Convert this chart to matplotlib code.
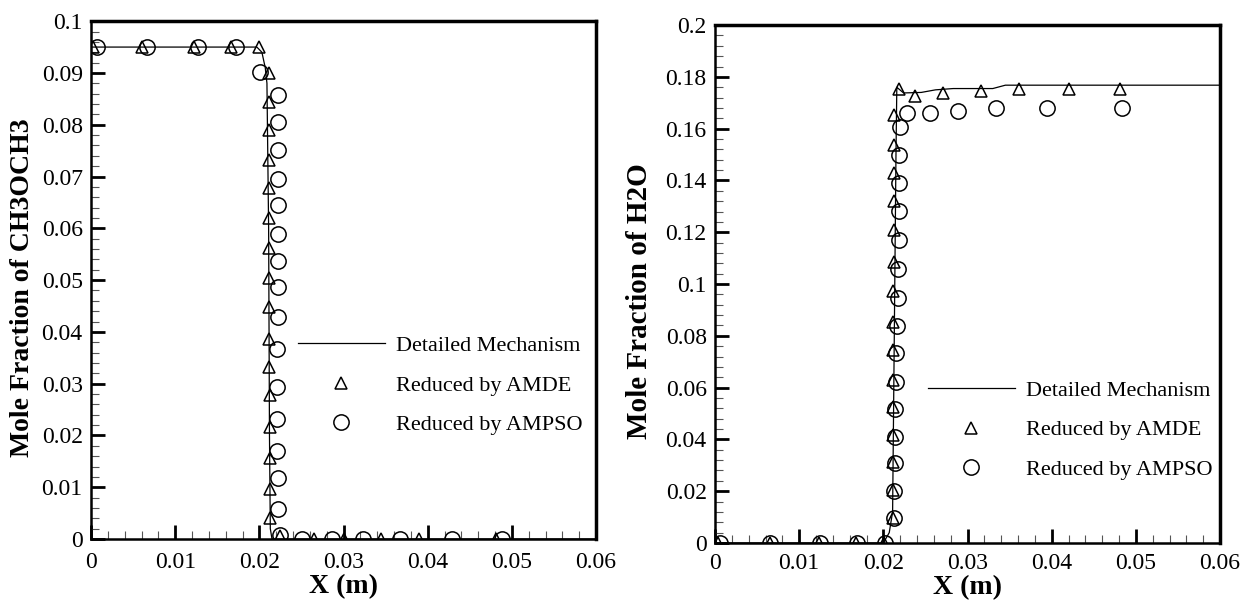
import matplotlib
matplotlib.use("Agg")
import matplotlib.pyplot as plt
from matplotlib.ticker import MultipleLocator, FormatStrFormatter

plt.rcParams["font.family"] = ["Liberation Serif", "DejaVu Serif"]

# ---- left panel: CH3OCH3 ----
det_x_ch3 = [0.0, 0.0197, 0.0203, 0.0207, 0.0209, 0.0211, 0.0212, 0.0213, 0.0215, 0.06]
det_y_ch3 = [0.095, 0.095, 0.0940, 0.0910, 0.0880, 0.0600, 0.0200, 0.0020, 0.0, 0.0]

amde_x_ch3 = [0.0002, 0.0061, 0.0122, 0.0166, 0.0199, 0.0211,
              0.0211, 0.0211, 0.0211, 0.0211, 0.0211, 0.0212, 0.0212,
              0.0212, 0.0212, 0.0212, 0.0213, 0.0213, 0.0213, 0.0213, 0.0213,
              0.0225, 0.0265, 0.0301, 0.0345, 0.0390, 0.0481]
amde_y_ch3 = [0.095, 0.095, 0.095, 0.095, 0.095, 0.0899,
              0.0844, 0.0790, 0.0732, 0.0678, 0.0619, 0.0562, 0.0504,
              0.0448, 0.0386, 0.0333, 0.0279, 0.0217, 0.0157, 0.0096, 0.0040,
              0.0005, 0.0, 0.0, 0.0, 0.0, 0.0]

ampso_x_ch3 = [0.0007, 0.0067, 0.0127, 0.0172, 0.0201,
               0.0222, 0.0222, 0.0222, 0.0222, 0.0222, 0.0222, 0.0222, 0.0222,
               0.0222, 0.0221, 0.0221, 0.0221, 0.0221, 0.0222, 0.0222,
               0.0224, 0.0251, 0.0286, 0.0323, 0.0367, 0.0429, 0.0488]
ampso_y_ch3 = [0.095, 0.095, 0.095, 0.095, 0.0902,
               0.0857, 0.0806, 0.0751, 0.0696, 0.0645, 0.0590, 0.0537, 0.0486,
               0.0428, 0.0367, 0.0293, 0.0232, 0.0170, 0.0117, 0.0059,
               0.0008, 0.0, 0.0, 0.0, 0.0, 0.0, 0.0]

# ---- right panel: H2O ----
det_x_h2o = [0.0, 0.0200, 0.0207, 0.0211, 0.0213, 0.0215, 0.0216, 0.0224,
             0.0245, 0.0262, 0.0283, 0.0330, 0.0345, 0.06]
det_y_h2o = [0.0, 0.0, 0.004, 0.012, 0.080, 0.150, 0.1760, 0.1738,
             0.1740, 0.1750, 0.1755, 0.1755, 0.1768, 0.1768]

amde_x_h2o = [0.0003, 0.0065, 0.0124, 0.0168, 0.0201,
              0.0211, 0.0211, 0.0211, 0.0211, 0.0211, 0.0211, 0.0212, 0.0212,
              0.0212, 0.0213, 0.0213, 0.0213, 0.0213, 0.0213, 0.0213,
              0.0219, 0.0238, 0.0271, 0.0316, 0.0361, 0.0421, 0.0481]
amde_y_h2o = [0.0, 0.0, 0.0, 0.0, 0.0,
              0.0095, 0.0205, 0.0312, 0.0417, 0.0524, 0.0629, 0.0745, 0.0855,
              0.0975, 0.1086, 0.1208, 0.1320, 0.1430, 0.1537, 0.1653,
              0.1752, 0.1725, 0.1736, 0.1745, 0.1755, 0.1755, 0.1755]

ampso_x_h2o = [0.0006, 0.0065, 0.0125, 0.0169, 0.0202,
               0.0213, 0.0213, 0.0214, 0.0214, 0.0214, 0.0215, 0.0215, 0.0216,
               0.0217, 0.0217, 0.0218, 0.0218, 0.0218, 0.0218, 0.0220,
               0.0228, 0.0255, 0.0289, 0.0334, 0.0394, 0.0484]
ampso_y_h2o = [0.0, 0.0, 0.0, 0.0, 0.0,
               0.0097, 0.0201, 0.0308, 0.0410, 0.0517, 0.0623, 0.0732, 0.0838,
               0.0945, 0.1057, 0.1170, 0.1282, 0.1391, 0.1500, 0.1607,
               0.1659, 0.1659, 0.1669, 0.1678, 0.1678, 0.1678]

x_ticks = [0, 0.01, 0.02, 0.03, 0.04, 0.05, 0.06]

fig = plt.figure(figsize=(12.42, 6.05), dpi=100)
ax1 = fig.add_axes([0.0733, 0.109, 0.4066, 0.856])
ax2 = fig.add_axes([0.5757, 0.1025, 0.4066, 0.856])


def draw_panel(ax, dx, dy, tx, ty, cx, cy, ymax, ystep, ylabel, leg_anchor,
               xl_size, yl_size, xpad):
    ax.plot(dx, dy, color="black", lw=0.9, label="Detailed Mechanism")
    ax.plot(tx, ty, ls="none", marker="^", ms=9, mfc="none", mec="black",
            mew=1.1, label="Reduced by AMDE")
    ax.plot(cx, cy, ls="none", marker="o", ms=11, mfc="none", mec="black",
            mew=1.1, label="Reduced by AMPSO")

    ax.set_xlim(0, 0.06)
    ax.set_ylim(0, ymax)
    ax.set_xticks(x_ticks)
    ax.yaxis.set_major_locator(MultipleLocator(ystep))
    ax.xaxis.set_minor_locator(MultipleLocator(0.002))
    ax.yaxis.set_minor_locator(MultipleLocator(ystep / 5))
    ax.xaxis.set_major_formatter(FormatStrFormatter("%g"))
    ax.yaxis.set_major_formatter(FormatStrFormatter("%g"))

    ax.tick_params(which="major", direction="in", length=10, width=2,
                   labelsize=17, top=False, right=False)
    ax.tick_params(axis="y", which="major", pad=6)
    ax.tick_params(axis="x", which="major", pad=xpad)
    ax.tick_params(which="minor", direction="in", length=6, width=0.8,
                   color="#555555", top=False, right=False)
    for side in ["left", "bottom"]:
        ax.spines[side].set_linewidth(1.8)
    for side in ["top", "right"]:
        ax.spines[side].set_linewidth(2.5)

    ax.set_xlabel("X (m)", fontsize=xl_size, fontweight="bold")
    ax.set_ylabel(ylabel, fontsize=yl_size, fontweight="bold")

    leg = ax.legend(loc="center left", bbox_to_anchor=leg_anchor, frameon=False,
                    fontsize=16, handlelength=3.9, handletextpad=0.5,
                    labelspacing=0.85, borderpad=0, borderaxespad=0)
    return leg


draw_panel(ax1, det_x_ch3, det_y_ch3, amde_x_ch3, amde_y_ch3,
           ampso_x_ch3, ampso_y_ch3, 0.1, 0.01,
           "Mole Fraction of CH3OCH3", (0.41, 0.297), 20, 20, 9)
ax1.yaxis.set_label_coords(-0.111, 0.486)
ax1.xaxis.set_label_coords(0.5, -0.067)

draw_panel(ax2, det_x_h2o, det_y_h2o, amde_x_h2o, amde_y_h2o,
           ampso_x_h2o, ampso_y_h2o, 0.2, 0.02,
           "Mole Fraction of H2O", (0.422, 0.218), 20, 21, 7)
ax2.yaxis.set_label_coords(-0.123, 0.467)
ax2.xaxis.set_label_coords(0.5, -0.062)

fig.savefig("out.png", dpi=100)
